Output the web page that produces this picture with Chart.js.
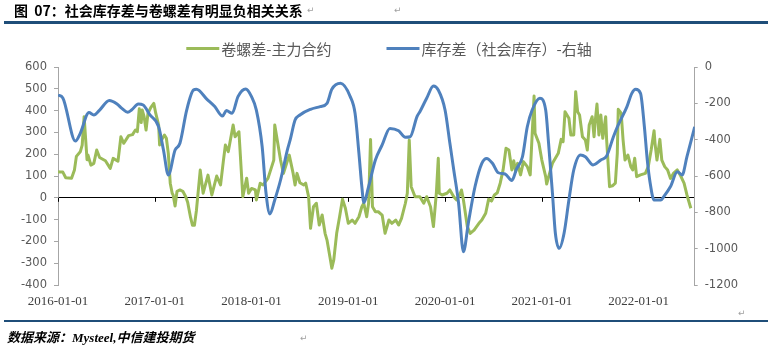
<!DOCTYPE html>
<html>
<head>
<meta charset="utf-8">
<script src="https://cdn.jsdelivr.net/npm/chart.js@4.4.1/dist/chart.umd.min.js"></script>
<style>
  html, body { margin: 0; padding: 0; background: #fff; }
  #page { position: relative; width: 768px; height: 348px; overflow: hidden; }
  #chart { position: absolute; left: 0; top: 0; }
  .title { position: absolute; left: 14px; top: 1px; font: bold 14px "Noto Sans CJK SC", sans-serif; line-height: 18px; color: #000; white-space: nowrap; word-spacing: 3px; }
  .rule { position: absolute; left: 4px; right: 0; background: #1F4E79; }
  .source { position: absolute; left: 7px; top: 329px; font: italic bold 13px "Liberation Serif", "Noto Sans CJK SC", serif; line-height: 18px; color: #000; white-space: nowrap; }
  .mark { position: absolute; font: 9px "DejaVu Sans", sans-serif; color: #A0A0A0; line-height: 12px; }
</style>
</head>
<body>
<div id="page">
  <canvas id="chart" width="768" height="348"></canvas>
  <div class="title">图 07：社会库存差与卷螺差有明显负相关关系</div>
  <div class="mark" style="left:307px; top:4px;">↵</div>
  <div class="mark" style="left:394px; top:4px;">↵</div>
  <div class="rule" style="top:21px; height:3px;"></div>
  <div class="mark" style="left:738px; top:307px;">↵</div>
  <div class="rule" style="top:320px; height:2px;"></div>
  <div class="source">数据来源：Mysteel,中信建投期货</div>
  <div class="mark" style="left:300px; top:332px;">↵</div>
</div>
<script>
// 卷螺差-主力合约 (left axis); dates as decimal years
const spreadDates = [
  2016.00, 2016.02, 2016.05, 2016.08, 2016.14, 2016.17, 2016.19, 2016.23, 2016.25, 2016.27,
  2016.30, 2016.31, 2016.34, 2016.37, 2016.40, 2016.43, 2016.49, 2016.54, 2016.57, 2016.62,
  2016.65, 2016.68, 2016.73, 2016.77, 2016.80, 2016.82, 2016.84, 2016.86, 2016.87, 2016.89,
  2016.91, 2016.93, 2016.96, 2016.99, 2017.01, 2017.04, 2017.05, 2017.07, 2017.10, 2017.12,
  2017.14, 2017.16, 2017.18, 2017.19, 2017.21, 2017.23, 2017.26, 2017.29, 2017.32, 2017.34,
  2017.37, 2017.39, 2017.41, 2017.43, 2017.47, 2017.50, 2017.55, 2017.59, 2017.64, 2017.68,
  2017.71, 2017.73, 2017.76, 2017.81, 2017.83, 2017.87, 2017.91, 2017.95, 2017.97, 2018.00,
  2018.04, 2018.05, 2018.09, 2018.12, 2018.17, 2018.23, 2018.24, 2018.30, 2018.33, 2018.39,
  2018.43, 2018.45, 2018.47, 2018.50, 2018.54, 2018.56, 2018.59, 2018.61, 2018.64, 2018.67,
  2018.70, 2018.73, 2018.76, 2018.78, 2018.81, 2018.83, 2018.85, 2018.88, 2018.91, 2018.94,
  2018.97, 2019.00, 2019.04, 2019.07, 2019.11, 2019.14, 2019.16, 2019.19, 2019.21, 2019.23,
  2019.25, 2019.28, 2019.31, 2019.35, 2019.38, 2019.42, 2019.45, 2019.49, 2019.52, 2019.55,
  2019.59, 2019.61, 2019.63, 2019.65, 2019.69, 2019.74, 2019.78, 2019.81, 2019.85, 2019.88,
  2019.91, 2019.93, 2019.94, 2019.97, 2020.02, 2020.05, 2020.09, 2020.12, 2020.15, 2020.17,
  2020.19, 2020.23, 2020.26, 2020.30, 2020.35, 2020.38, 2020.42, 2020.45, 2020.48, 2020.51,
  2020.54, 2020.57, 2020.60, 2020.63, 2020.66, 2020.69, 2020.71, 2020.73, 2020.75, 2020.78,
  2020.81, 2020.85, 2020.88, 2020.90, 2020.92, 2020.93, 2020.97, 2021.00, 2021.04, 2021.05,
  2021.09, 2021.11, 2021.14, 2021.17, 2021.20, 2021.22, 2021.24, 2021.28, 2021.30, 2021.33,
  2021.35, 2021.37, 2021.39, 2021.42, 2021.45, 2021.47, 2021.49, 2021.52, 2021.54, 2021.55,
  2021.57, 2021.59, 2021.61, 2021.63, 2021.66, 2021.67, 2021.70, 2021.73, 2021.76, 2021.78,
  2021.79, 2021.82, 2021.84, 2021.86, 2021.89, 2021.92, 2021.94, 2021.96, 2021.98, 2022.02,
  2022.07, 2022.10, 2022.13, 2022.16, 2022.17, 2022.19, 2022.22, 2022.24, 2022.27, 2022.30,
  2022.33, 2022.36, 2022.40, 2022.43, 2022.47, 2022.50, 2022.54
];
const spreadValues = [
  120, 118, 118, 92, 90, 128, 190, 211, 242, 372,
  175, 196, 150, 158, 219, 185, 170, 135, 181, 168,
  280, 250, 285, 290, 311, 303, 408, 345, 403, 372,
  311, 388, 415, 433, 388, 334, 242, 265, 288, 273,
  204, 67, 21, 13, -38, 30, 36, 30, 5, -20,
  -90, -126, -126, -60, 127, 21, 104, 13, 100, 59,
  173, 242, 212, 334, 280, 303, 5, 90, 21, 43,
  36, -10, 67, 59, 89, 173, 334, 173, 112, 196,
  112, 59, 112, 69, 59, 67, 5, -140, -41, -25,
  -125, -79, -163, -194, -270, -323, -285, -163, -87, -7,
  -48, -117, -102, -117, -87, -41, -25, -87, -25, 268,
  -41, -64, -64, -79, -163, -102, -117, -102, -125, -94,
  -25, 21, 265, 51, 5, 5, -25, 5, -41, -132,
  21, 181, 21, 13, 21, 36, 5, -10, 13, 36,
  -10, -132, -163, -148, -117, -102, -71, -7, -15, 13,
  23, 67, 128, 227, 219, 128, 170, 120, 158, 105,
  166, 143, 105, 288, 467, 296, 250, 173, 97, 63,
  128, 158, 181, 204, 268, 257, 395, 365, 288, 288,
  487, 395, 380, 280, 265, 219, 334, 372, 280, 342,
  430, 288, 380, 273, 372, 265, 51, 55, 67, 204,
  406, 388, 265, 173, 196, 143, 128, 181, 97, 105,
  112, 143, 219, 308, 250, 173, 268, 173, 143, 128,
  89, 112, 128, 105, 67, 13, -48
];

// 库存差（社会库存）(right axis); dates as decimal years
const stockDates = [
  2016.00, 2016.05, 2016.18, 2016.23, 2016.32, 2016.37, 2016.43, 2016.53, 2016.61, 2016.66,
  2016.72, 2016.76, 2016.83, 2016.88, 2016.95, 2017.04, 2017.09, 2017.14, 2017.21, 2017.26,
  2017.33, 2017.40, 2017.43, 2017.54, 2017.62, 2017.70, 2017.74, 2017.80, 2017.86, 2017.94,
  2018.00, 2018.05, 2018.11, 2018.15, 2018.19, 2018.24, 2018.30, 2018.37, 2018.40, 2018.45,
  2018.50, 2018.61, 2018.71, 2018.78, 2018.83, 2018.92, 2019.02, 2019.07, 2019.11, 2019.14,
  2019.16, 2019.21, 2019.28, 2019.35, 2019.43, 2019.52, 2019.59, 2019.64, 2019.71, 2019.74,
  2019.81, 2019.88, 2019.93, 2020.00, 2020.05, 2020.09, 2020.14, 2020.19, 2020.24, 2020.31,
  2020.38, 2020.43, 2020.49, 2020.55, 2020.62, 2020.69, 2020.74, 2020.80, 2020.85, 2020.90,
  2020.98, 2021.04, 2021.07, 2021.11, 2021.14, 2021.18, 2021.23, 2021.28, 2021.33, 2021.40,
  2021.45, 2021.53, 2021.61, 2021.67, 2021.74, 2021.79, 2021.88, 2021.93, 2021.97, 2022.02,
  2022.06, 2022.09, 2022.12, 2022.16, 2022.23, 2022.26, 2022.33, 2022.40, 2022.45, 2022.50,
  2022.58
];
const stockValues = [
  -154, -170, -407, -365, -251, -264, -237, -185, -204, -228,
  -249, -237, -204, -209, -264, -329, -457, -594, -457, -420,
  -237, -127, -123, -178, -218, -270, -240, -255, -163, -121,
  -163, -237, -439, -695, -809, -732, -622, -457, -400, -292,
  -264, -233, -218, -200, -123, -90, -163, -255, -475, -658,
  -746, -658, -512, -429, -338, -351, -387, -384, -273, -246,
  -172, -105, -127, -237, -420, -567, -750, -1017, -861, -658,
  -530, -503, -530, -582, -589, -625, -560, -494, -329, -237,
  -172, -237, -420, -695, -915, -998, -915, -732, -567, -484,
  -494, -539, -512, -490, -384, -319, -218, -145, -123, -145,
  -329, -512, -640, -732, -732, -714, -658, -576, -594, -494,
  -329
];

// axis ticks
const yearTicks = [2016, 2017, 2018, 2019, 2020, 2021, 2022];
const leftRange = [-400, 600, 100];
const rightRange = [-1200, 0, 200];

const seriesNames = ['卷螺差-主力合约', '库存差（社会库存）-右轴'];
const seriesColors = ['#9BBB59', '#4F81BD'];

const axisGray = '#A6A6A6';
const labelGray = '#595959';

// legend row drawn above the plot, centred, line sample + label
const seriesKey = {
  id: 'seriesKey',
  afterDraw(chart, args, opts) {
    const ctx = chart.ctx;
    ctx.save();
    ctx.font = opts.font;
    ctx.textBaseline = 'middle';
    const items = chart.data.datasets.map(ds => {
      const tw = ctx.measureText(ds.label).width;
      return { text: ds.label, color: ds.borderColor, tw, w: opts.sample + opts.textGap + tw };
    });
    const total = items.reduce((s, it) => s + it.w, 0) + opts.itemGap * (items.length - 1);
    let x = opts.centerX - total / 2;
    items.forEach(it => {
      ctx.strokeStyle = it.color;
      ctx.lineWidth = 3;
      ctx.beginPath();
      ctx.moveTo(x, opts.y);
      ctx.lineTo(x + opts.sample, opts.y);
      ctx.stroke();
      ctx.fillStyle = opts.color;
      ctx.fillText(it.text, x + opts.sample + opts.textGap, opts.y + 1);
      x += it.w + opts.itemGap;
    });
    ctx.restore();
  }
};

// short year ticks hanging below the zero line
const zeroTicks = {
  id: 'zeroTicks',
  beforeDatasetsDraw(chart) {
    const ctx = chart.ctx;
    const xs = chart.scales.x;
    const y0 = chart.scales.yL.getPixelForValue(0);
    ctx.save();
    ctx.strokeStyle = '#000';
    ctx.lineWidth = 1;
    xs.ticks.forEach(t => {
      const px = Math.round(xs.getPixelForValue(t.value)) + 0.5;
      ctx.beginPath();
      ctx.moveTo(px, y0);
      ctx.lineTo(px, y0 + 4);
      ctx.stroke();
    });
    ctx.restore();
  }
};

const toPoints = (xs, ys) => xs.map((x, i) => ({ x, y: ys[i] }));
const plainNumber = v => String(v);

new Chart(document.getElementById('chart'), {
  type: 'line',
  data: {
    datasets: [
      {
        label: seriesNames[0],
        data: toPoints(spreadDates, spreadValues),
        yAxisID: 'yL',
        borderColor: seriesColors[0],
        backgroundColor: seriesColors[0],
        borderWidth: 3,
        pointRadius: 0,
        tension: 0,
        borderJoinStyle: 'round',
        order: 1
      },
      {
        label: seriesNames[1],
        data: toPoints(stockDates, stockValues),
        yAxisID: 'yR',
        borderColor: seriesColors[1],
        backgroundColor: seriesColors[1],
        borderWidth: 3,
        pointRadius: 0,
        cubicInterpolationMode: 'monotone',
        borderJoinStyle: 'round',
        order: 0
      }
    ]
  },
  options: {
    responsive: false,
    animation: false,
    devicePixelRatio: 1,
    layout: { padding: { top: 67, left: 0, right: 0, bottom: 0 } },
    plugins: {
      legend: { display: false },
      tooltip: { enabled: false },
      seriesKey: {
        font: '15px "Noto Sans CJK SC", sans-serif',
        color: labelGray,
        sample: 33,
        textGap: 2,
        itemGap: 55,
        centerX: 389,
        y: 48.5
      }
    },
    scales: {
      x: {
        type: 'linear',
        min: yearTicks[0],
        max: stockDates[stockDates.length - 1],
        afterBuildTicks: s => { s.ticks = yearTicks.map(v => ({ value: v })); },
        afterFit: s => { s.height = 63; },
        grid: { display: false },
        border: { display: false },
        ticks: {
          autoSkip: false,
          maxRotation: 0,
          padding: 1,
          color: '#404040',
          font: { family: '"Liberation Serif", serif', size: 13 },
          callback: v => v + '-01-01'
        }
      },
      yL: {
        position: 'left',
        min: leftRange[0],
        max: leftRange[1],
        afterFit: s => { s.width = 58; },
        ticks: {
          stepSize: leftRange[2],
          padding: 7,
          color: labelGray,
          font: { family: '"DejaVu Sans", sans-serif', size: 11.5 },
          callback: plainNumber
        },
        grid: {
          drawOnChartArea: true,
          color: c => (c.tick && c.tick.value === 0 ? '#000' : 'rgba(0,0,0,0)'),
          tickColor: axisGray,
          tickLength: 4,
          lineWidth: 1
        },
        border: { display: true, color: axisGray, width: 1 }
      },
      yR: {
        position: 'right',
        min: rightRange[0],
        max: rightRange[1],
        afterFit: s => { s.width = 73.3; },
        ticks: {
          stepSize: rightRange[2],
          padding: 7,
          color: labelGray,
          font: { family: '"DejaVu Sans", sans-serif', size: 11.5 },
          callback: plainNumber
        },
        grid: {
          drawOnChartArea: false,
          tickColor: axisGray,
          tickLength: 3
        },
        border: { display: true, color: axisGray, width: 1 }
      }
    }
  },
  plugins: [seriesKey, zeroTicks]
});
</script>
</body>
</html>
